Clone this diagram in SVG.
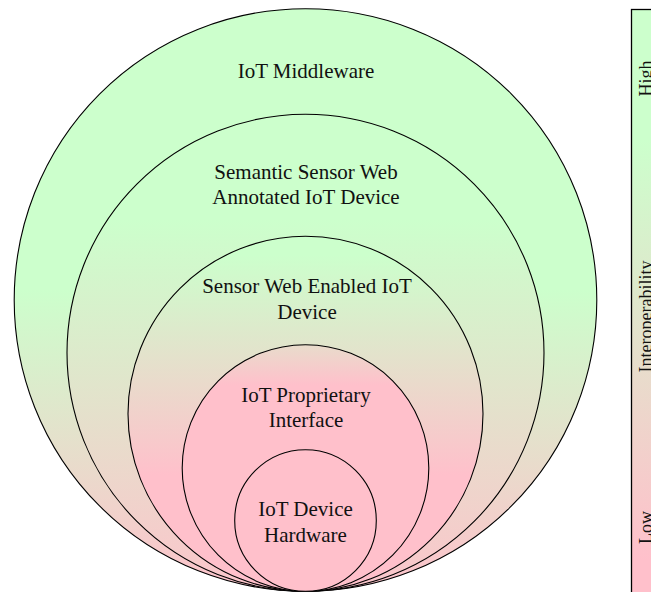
<svg xmlns="http://www.w3.org/2000/svg" width="651" height="592" viewBox="0 0 651 592">
<style>
  .ring { stroke: #000; stroke-width: 1.1; }
  .lbl { font-family: "Liberation Serif", "Times New Roman", serif; font-size: 21px; fill: #111; text-anchor: middle; }
  .bar { font-family: "Liberation Serif", "Times New Roman", serif; font-size: 18px; fill: #111; text-anchor: middle; }
</style>
<defs>
  <linearGradient id="g1" gradientUnits="userSpaceOnUse" x1="0" y1="290" x2="0" y2="600">
    <stop offset="0" stop-color="#ccffcc"/><stop offset="1" stop-color="#ffc0cb"/>
  </linearGradient>
  <linearGradient id="g2" gradientUnits="userSpaceOnUse" x1="0" y1="220" x2="0" y2="620">
    <stop offset="0" stop-color="#ccffcc"/><stop offset="1" stop-color="#ffc0cb"/>
  </linearGradient>
  <linearGradient id="g3" gradientUnits="userSpaceOnUse" x1="0" y1="255" x2="0" y2="475">
    <stop offset="0" stop-color="#ccffcc"/><stop offset="1" stop-color="#ffc0cb"/>
  </linearGradient>
  <linearGradient id="g4" gradientUnits="userSpaceOnUse" x1="0" y1="295" x2="0" y2="385">
    <stop offset="0" stop-color="#ccffcc"/><stop offset="1" stop-color="#ffc0cb"/>
  </linearGradient>
  <linearGradient id="gbar" gradientUnits="userSpaceOnUse" x1="0" y1="140" x2="0" y2="560">
    <stop offset="0" stop-color="#ccffcc"/><stop offset="1" stop-color="#ffc0cb"/>
  </linearGradient>
</defs>
<rect x="0" y="0" width="651" height="592" fill="#ffffff"/>

<g id="iot-middleware">
  <circle class="ring" cx="305.5" cy="300" r="291.3" fill="url(#g1)"/>
  <text class="lbl" x="306" y="77.5">IoT Middleware</text>
</g>
<g id="semantic-sensor-web">
  <circle class="ring" cx="305.5" cy="352.8" r="238.5" fill="url(#g2)"/>
  <text class="lbl" x="306" y="178.5">Semantic Sensor Web</text>
  <text class="lbl" x="306" y="203.8">Annotated IoT Device</text>
</g>
<g id="sensor-web-enabled">
  <circle class="ring" cx="305.5" cy="413.8" r="177.5" fill="url(#g3)"/>
  <text class="lbl" x="307" y="293.3">Sensor Web Enabled IoT</text>
  <text class="lbl" x="307" y="318.6">Device</text>
</g>
<g id="iot-proprietary">
  <circle class="ring" cx="305.5" cy="468" r="123.3" fill="url(#g4)"/>
  <text class="lbl" x="306" y="401.7">IoT Proprietary</text>
  <text class="lbl" x="306" y="427">Interface</text>
</g>
<g id="iot-hardware">
  <circle class="ring" cx="305.5" cy="520.5" r="70.8" fill="#ffc0cb"/>
  <text class="lbl" x="305.5" y="516">IoT Device</text>
  <text class="lbl" x="305.5" y="541.5">Hardware</text>
</g>

<g id="interoperability-bar">
  <rect x="631.5" y="9.5" width="40" height="600" fill="url(#gbar)" stroke="#000" stroke-width="1.3"/>
  <text class="bar" transform="translate(651.5 78.5) rotate(-90)">High</text>
  <text class="bar" transform="translate(651.5 316.5) rotate(-90)">Interoperability</text>
  <text class="bar" transform="translate(651.5 527.5) rotate(-90)">Low</text>
</g>
<g id="connectors"/>
</svg>
